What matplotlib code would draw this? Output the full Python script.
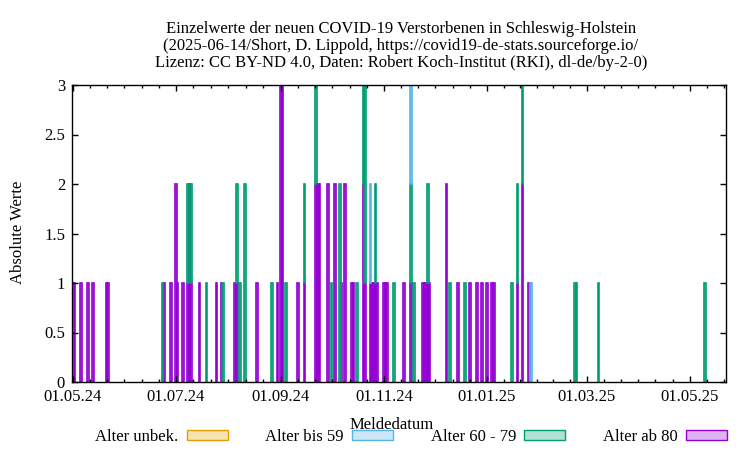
import numpy as np
import pandas as pd
import matplotlib
matplotlib.use("Agg")
import matplotlib.pyplot as plt
import matplotlib.dates as mdates
from matplotlib.patches import Patch
from matplotlib.colors import to_rgba

plt.rcParams['font.family'] = 'serif'
plt.rcParams['font.serif'] = ['Liberation Serif', 'DejaVu Serif']
plt.rcParams['font.size'] = 12

# daily deaths per age group (only days with reports)
dates = [
    "2024-05-02", "2024-05-06", "2024-05-10", "2024-05-13", "2024-05-21", "2024-05-22",
    "2024-06-23", "2024-06-24", "2024-06-28", "2024-07-01", "2024-07-02", "2024-07-05",
    "2024-07-08", "2024-07-09", "2024-07-10", "2024-07-15", "2024-07-19", "2024-07-25",
    "2024-07-28", "2024-07-29", "2024-08-05", "2024-08-06", "2024-08-08", "2024-08-11",
    "2024-08-18", "2024-08-27", "2024-08-30", "2024-09-01", "2024-09-02", "2024-09-04",
    "2024-09-11", "2024-09-15", "2024-09-22", "2024-09-23", "2024-09-24", "2024-09-29",
    "2024-10-01", "2024-10-03", "2024-10-06", "2024-10-07", "2024-10-09", "2024-10-13",
    "2024-10-14", "2024-10-16", "2024-10-20", "2024-10-21", "2024-10-24", "2024-10-25",
    "2024-10-26", "2024-10-27", "2024-10-28", "2024-11-01", "2024-11-02", "2024-11-03",
    "2024-11-07", "2024-11-13", "2024-11-17", "2024-11-19", "2024-11-24", "2024-11-25",
    "2024-11-26", "2024-11-27", "2024-11-28", "2024-12-08", "2024-12-10", "2024-12-15",
    "2024-12-19", "2024-12-22", "2024-12-26", "2024-12-29", "2025-01-01", "2025-01-04",
    "2025-01-05", "2025-01-16", "2025-01-19", "2025-01-22", "2025-01-26", "2025-01-27",
    "2025-02-22", "2025-02-23", "2025-03-08", "2025-05-10",
]
alter_unbek = [0] * 82
alter_bis_59 = [
    0, 0, 0, 0, 0, 0,
    0, 0, 0, 0, 0, 0,
    0, 0, 0, 0, 0, 0,
    0, 0, 0, 0, 0, 0,
    0, 0, 0, 0, 0, 0,
    0, 0, 0, 0, 0, 0,
    0, 0, 0, 0, 0, 0,
    0, 0, 0, 0, 1, 0,
    0, 0, 0, 0, 0, 0,
    0, 0, 1, 0, 0, 0,
    0, 0, 0, 0, 0, 0,
    0, 0, 0, 0, 0, 0,
    0, 0, 0, 0, 0, 1,
    0, 0, 0, 0,
]
alter_60_79 = [
    0, 0, 0, 0, 0, 0,
    1, 0, 0, 0, 0, 0,
    1, 0, 1, 0, 1, 0,
    0, 1, 0, 1, 1, 2,
    0, 1, 0, 0, 0, 1,
    0, 1, 1, 0, 0, 0,
    1, 0, 2, 0, 0, 0,
    0, 1, 1, 2, 0, 0,
    0, 1, 0, 0, 0, 0,
    1, 0, 1, 1, 0, 0,
    0, 1, 0, 0, 1, 0,
    1, 0, 0, 0, 0, 0,
    0, 1, 1, 1, 0, 0,
    1, 1, 1, 1,
]
alter_ab_80 = [
    1, 1, 1, 1, 1, 1,
    0, 1, 1, 2, 1, 1,
    1, 2, 1, 1, 0, 1,
    1, 0, 1, 1, 0, 0,
    1, 0, 1, 3, 3, 0,
    1, 1, 2, 2, 2, 2,
    0, 2, 0, 1, 2, 1,
    1, 0, 2, 1, 1, 1,
    1, 1, 1, 1, 1, 1,
    0, 1, 1, 0, 1, 1,
    1, 1, 1, 2, 0, 1,
    0, 1, 1, 1, 1, 1,
    1, 0, 1, 2, 1, 0,
    0, 0, 0, 0,
]

labels = ["Alter unbek.", "Alter bis 59", "Alter 60 - 79", "Alter ab 80"]
colors = ["#e69f00", "#56b4e9", "#009e73", "#9400d3"]

x = mdates.date2num(pd.to_datetime(dates))

fig = plt.figure(figsize=(7.5, 4.5), dpi=100)
ax = fig.add_axes([72/750, 1-382/450, 654/750, 297/450])

# stacked: ab 80 at the bottom, unbek. on top
bottom = np.zeros(len(x))
for vals, col in [(alter_ab_80, colors[3]), (alter_60_79, colors[2]),
                  (alter_bis_59, colors[1]), (alter_unbek, colors[0])]:
    v = np.array(vals, dtype=float)
    m = v > 0
    if m.any():
        ax.bar(x[m], v[m], width=1.0, bottom=bottom[m], facecolor=to_rgba(col, 0.5),
               edgecolor=col, linewidth=1.2)
    bottom += v

majors = mdates.date2num(pd.date_range("2024-05-01", "2025-07-01", freq="2MS"))
minors = np.concatenate([np.linspace(a, b, 7)[1:-1] for a, b in zip(majors[:-1], majors[1:])])
ax.set_xticks(majors)
ax.set_xticks(minors, minor=True)
ax.xaxis.set_major_formatter(mdates.DateFormatter("%d.%m.%y"))
ax.set_yticks(np.arange(0, 3.01, 0.5))
ax.yaxis.set_major_formatter(plt.FormatStrFormatter("%g"))

start = mdates.date2num(pd.Timestamp("2024-05-01"))
ax.set_xlim(start - 0.5, start + 386.4)
ax.set_ylim(0, 3)

ax.tick_params(which="both", direction="in", top=True, right=True, width=1.0)
ax.tick_params(which="major", length=4.5, pad=5)
ax.tick_params(which="minor", length=2.2)
for s in ax.spines.values():
    s.set_linewidth(1.0)

ax.set_xlabel("Meldedatum")
ax.xaxis.set_label_coords((392-72)/654, -0.117)
ax.set_ylabel("Absolute Werte")
ax.yaxis.set_label_coords(-0.07, 0.505)

fig.text(401/750, 1-21/450,
         "Einzelwerte der neuen COVID-19 Verstorbenen in Schleswig-Holstein\n"
         "(2025-06-14/Short, D. Lippold, https://covid19-de-stats.sourceforge.io/\n"
         "Lizenz: CC BY-ND 4.0, Daten: Robert Koch-Institut (RKI), dl-de/by-2-0)",
         ha="center", va="top", linespacing=1.08)

handles = [Patch(facecolor=to_rgba(c, 0.3), edgecolor=c, linewidth=1.0) for c in colors]
fig.legend(handles, labels, loc="center", bbox_to_anchor=(411/750, 1-437/450), ncol=4,
           frameon=False, markerfirst=False, handlelength=2.45, handleheight=0.6,
           handletextpad=0.5, columnspacing=2.25, borderpad=0)

fig.savefig("out.png", dpi=100)
